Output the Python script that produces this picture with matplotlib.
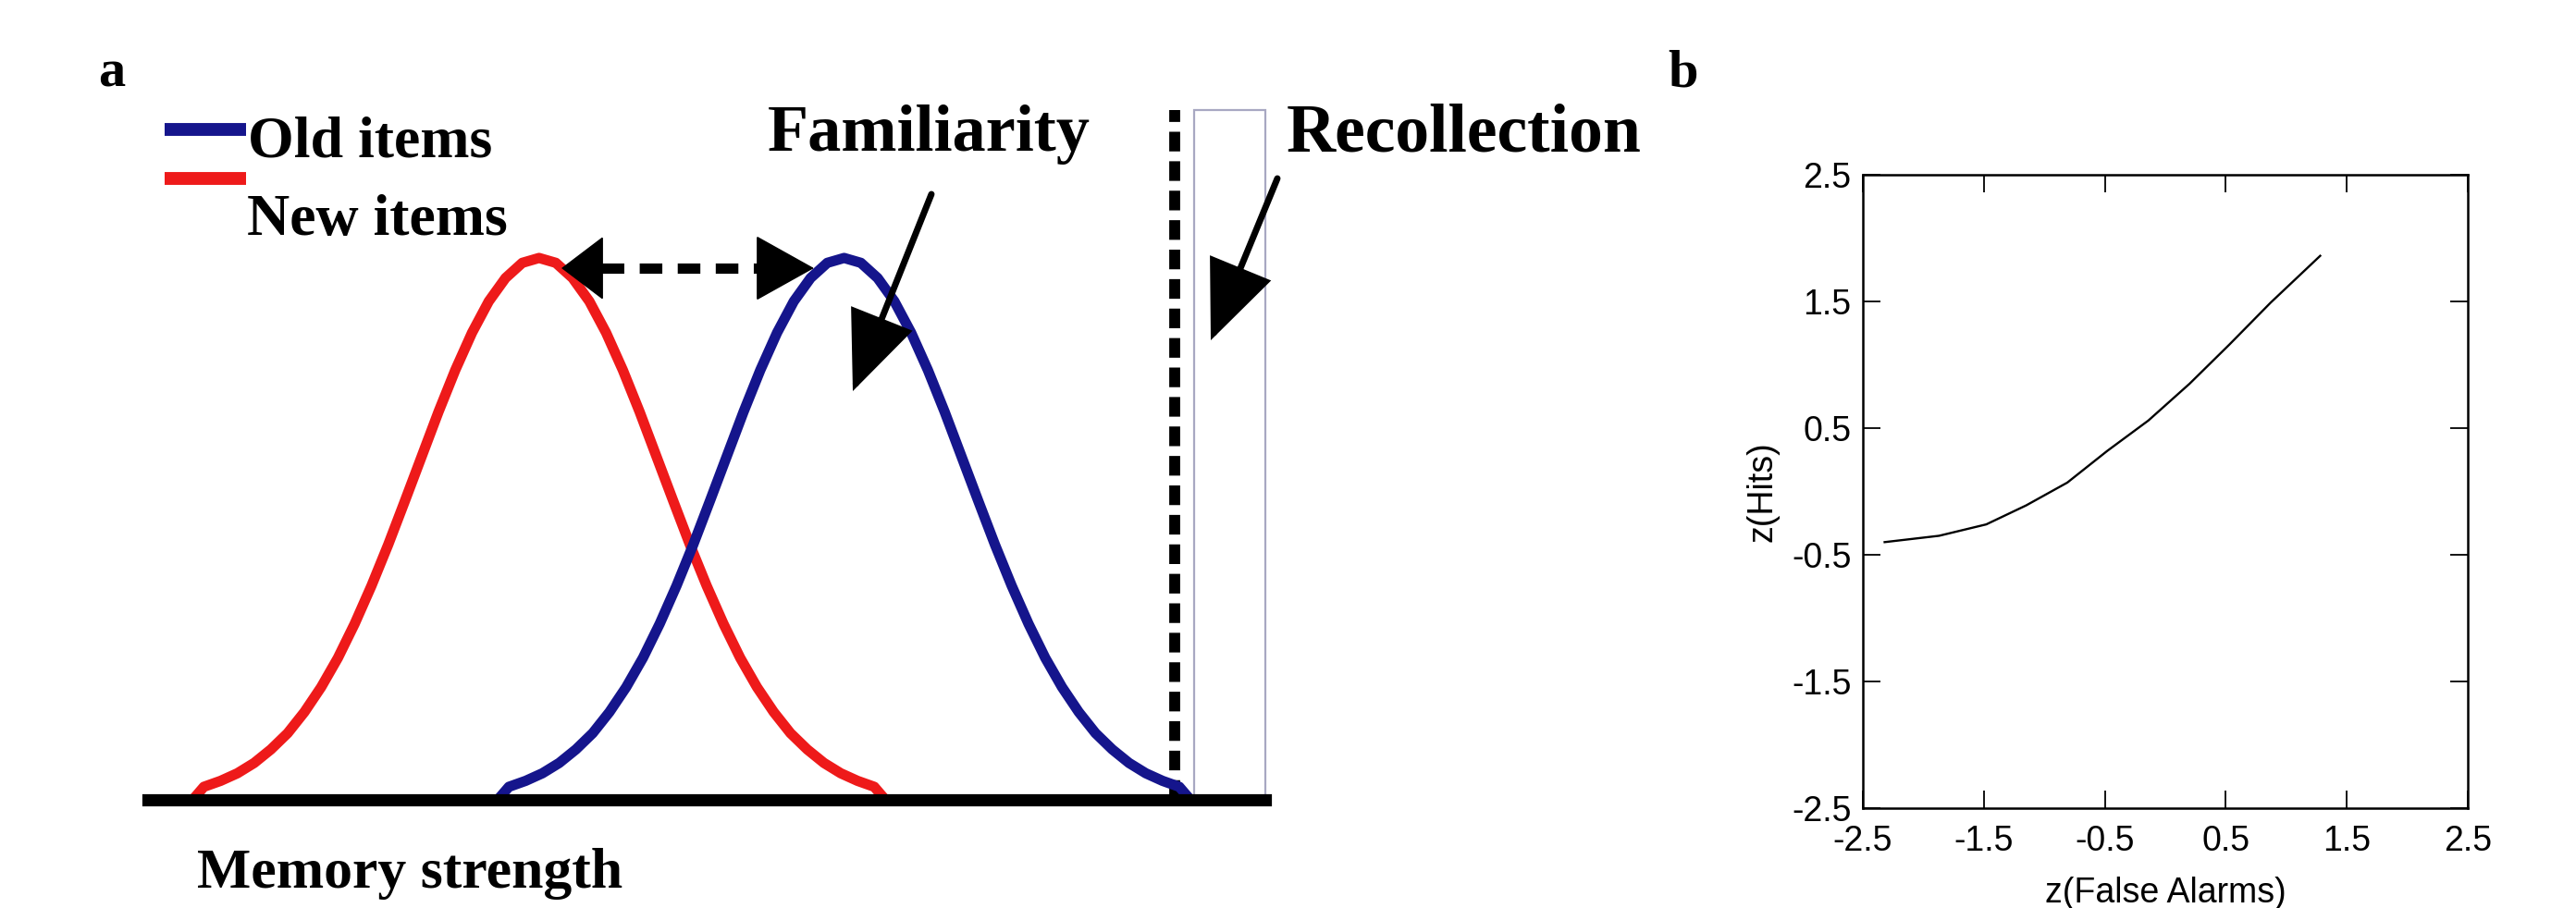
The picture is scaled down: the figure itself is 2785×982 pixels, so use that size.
import matplotlib
matplotlib.use('Agg')
import matplotlib.pyplot as plt
from matplotlib.patches import Rectangle, FancyArrowPatch
from matplotlib.lines import Line2D

plt.rcParams['axes.unicode_minus'] = False

W, H = 2785, 982

# ---------------- Panel a data (memory strength distributions) ----------------
strength_offsets = [-31, -30, -28.5, -27, -25.5, -24, -22.5, -21, -19.5, -18, -16.5, -15, -13.5,
                    -12, -10.5, -9, -7.5, -6, -4.5, -3, -1.5, 0, 1.5, 3, 4.5, 6, 7.5, 9, 10.5,
                    12, 13.5, 15, 16.5, 18, 19.5, 21, 22.5, 24, 25.5, 27, 28.5, 30, 31]
density = [0, 0.024, 0.035, 0.049, 0.068, 0.093, 0.123, 0.162, 0.208, 0.262, 0.325, 0.395, 0.471,
           0.552, 0.634, 0.716, 0.793, 0.862, 0.920, 0.963, 0.991, 1.0, 0.991, 0.963, 0.920, 0.862,
           0.793, 0.716, 0.634, 0.552, 0.471, 0.395, 0.325, 0.262, 0.208, 0.162, 0.123, 0.093,
           0.068, 0.049, 0.035, 0.024, 0]
new_mean = 35.0
old_mean = 62.3
new_x = [new_mean + d for d in strength_offsets]
old_x = [old_mean + d for d in strength_offsets]
new_density = density
old_density = density
recollection_threshold = 91.9
recollection_box = [93.6, 100.0]
series_labels = ['Old items', 'New items']

# ---------------- Panel b data (zROC) ----------------
z_false_alarms = [-2.32, -1.87, -1.48, -1.15, -0.81, -0.48, -0.14, 0.20, 0.53, 0.87, 1.28]
z_hits = [-0.40, -0.35, -0.26, -0.11, 0.07, 0.32, 0.56, 0.85, 1.16, 1.49, 1.86]
tick_values = [-2.5, -1.5, -0.5, 0.5, 1.5, 2.5]
tick_labels = ['-2.5', '-1.5', '-0.5', '0.5', '1.5', '2.5']


def fx(x):
    return x / W


def fy(y):
    return 1 - y / H


fig = plt.figure(figsize=(W / 100, H / 100), dpi=100)
serif = dict(family='Liberation Serif', weight='bold')
sans = dict(family='Liberation Sans')

RED = '#ee1a1a'
BLUE = '#15158c'

# ---------------- Panel a ----------------
ax_a = fig.add_axes([fx(160), fy(865), (1368 - 160) / W, (865 - 119) / H])
ax_a.set_xlim(0, 100)
ax_a.set_ylim(0, 1.273)
ax_a.axis('off')

ax_a.plot(new_x, new_density, color=RED, lw=8, solid_capstyle='butt',
          solid_joinstyle='round', clip_on=False, zorder=3)
ax_a.plot(old_x, old_density, color=BLUE, lw=8, solid_capstyle='butt',
          solid_joinstyle='round', clip_on=False, zorder=3)
ax_a.axhline(0, color='k', lw=9.5, clip_on=False, zorder=4)
ax_a.axvline(recollection_threshold, color='k', lw=8.5, linestyle=(0, (1.8, 0.9)),
             dash_capstyle='butt', clip_on=False, zorder=2)
ax_a.add_patch(Rectangle((recollection_box[0], 0), recollection_box[1] - recollection_box[0], 1.273,
                         fill=False, edgecolor='#a8a8c2', lw=1.6, clip_on=False, zorder=1))

# legend
fig.add_artist(Line2D([fx(178), fx(266)], [fy(140), fy(140)], color=BLUE, lw=10,
                      solid_capstyle='butt', transform=fig.transFigure))
fig.add_artist(Line2D([fx(178), fx(266)], [fy(193), fy(193)], color=RED, lw=10,
                      solid_capstyle='butt', transform=fig.transFigure))
fig.text(fx(268), fy(169), series_labels[0], fontsize=46, ha='left', va='baseline', **serif)
fig.text(fx(267), fy(254), series_labels[1], fontsize=46, ha='left', va='baseline', **serif)

# annotations
fig.text(fx(1004), fy(163), 'Familiarity', fontsize=52, ha='center', va='baseline', **serif)
fig.text(fx(1391), fy(163), 'Recollection', fontsize=53, ha='left', va='baseline', **serif)
fig.text(fx(213), fy(960), 'Memory strength', fontsize=44.5, ha='left', va='baseline', **serif)
fig.text(fx(121), fy(94), 'a', fontsize=42, ha='center', va='baseline', **serif)
fig.text(fx(1820), fy(94), 'b', fontsize=42, ha='center', va='baseline', **serif)


def arrow(p0, p1, style, lw, ls='-'):
    a = FancyArrowPatch((fx(p0[0]), fy(p0[1])), (fx(p1[0]), fy(p1[1])),
                        transform=fig.transFigure, arrowstyle=style, mutation_scale=100,
                        lw=lw, color='k', linestyle=ls, shrinkA=0, shrinkB=0,
                        joinstyle='miter', zorder=5)
    fig.add_artist(a)


arrow((1007, 210), (922, 423), '-|>,head_length=0.52,head_width=0.22', 5)
arrow((1381, 193), (1309, 368), '-|>,head_length=0.52,head_width=0.22', 5)

# double-headed dashed arrow (familiarity difference)
fig.add_artist(Line2D([fx(650), fx(822)], [fy(290), fy(290)], color='k', lw=8,
                      linestyle=(0, (2.2, 1.5)), dash_capstyle='butt',
                      transform=fig.transFigure, zorder=5))
arrow((650, 290), (607, 290), '-|>,head_length=0.31,head_width=0.235', 1)
arrow((820, 290), (880, 290), '-|>,head_length=0.43,head_width=0.24', 1)

# ---------------- Panel b ----------------
ax_b = fig.add_axes([fx(2014), fy(874), (2668 - 2014) / W, (874 - 189) / H])
ax_b.plot(z_false_alarms, z_hits, color='k', lw=1.7)
ax_b.set_xlim(-2.5, 2.5)
ax_b.set_ylim(-2.5, 2.5)
ax_b.set_xticks(tick_values)
ax_b.set_xticklabels(tick_labels, **sans)
ax_b.set_yticks(tick_values)
ax_b.set_yticklabels(tick_labels, **sans)
ax_b.tick_params(direction='in', top=True, right=True, length=14, width=1.3, labelsize=27)
ax_b.tick_params(axis='x', pad=13)
ax_b.tick_params(axis='y', pad=9)
for s in ax_b.spines.values():
    s.set_linewidth(1.8)
ax_b.set_xlabel('z(False Alarms)', fontsize=27, labelpad=14, **sans)
ax_b.set_ylabel('z(Hits)', fontsize=27, labelpad=10, **sans)

fig.savefig('out.png', dpi=100)
